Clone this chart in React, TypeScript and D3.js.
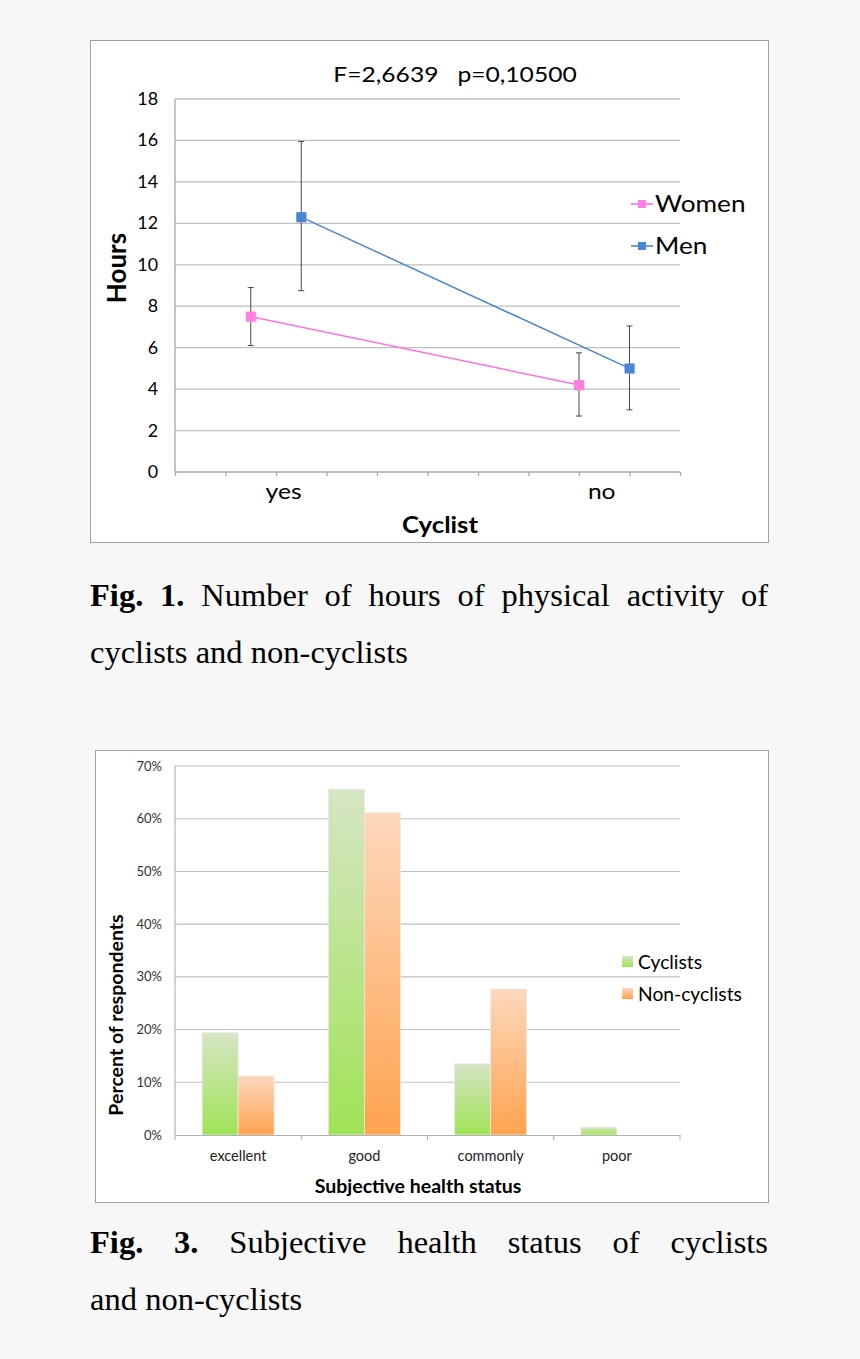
import React, { useEffect, useRef } from 'react';
import * as d3 from 'd3';

const W = 860;
const H = 1359;

// Fig. 1 - hours of physical activity
const cyclistGroups = ['yes', 'no'];
const groupX = [1.5, 8];
const groupLabelX = [2.15, 8.45];
const womenMean = [7.5, 4.2];
const womenLow = [6.1, 2.7];
const womenHigh = [8.9, 5.75];
const menMean = [12.3, 5.0];
const menLow = [8.75, 3.0];
const menHigh = [15.95, 7.05];
const hourTicks = [0, 2, 4, 6, 8, 10, 12, 14, 16, 18];
const fig1Title = 'F=2,6639   p=0,10500';

// Fig. 3 - subjective health status
const healthStatus = ['excellent', 'good', 'commonly', 'poor'];
const cyclistsPct = [19.4, 65.6, 13.5, 1.5];
const nonCyclistsPct = [11.2, 61.2, 27.7, 0];
const pctTicks = [0, 10, 20, 30, 40, 50, 60, 70];

const caption1 = [
  [{ t: 'Fig.', b: true }, { t: '1.', b: true }, { t: 'Number' }, { t: 'of' }, { t: 'hours' }, { t: 'of' }, { t: 'physical' }, { t: 'activity' }, { t: 'of' }],
  [{ t: 'cyclists' }, { t: 'and' }, { t: 'non-cyclists' }],
];
const caption3 = [
  [{ t: 'Fig.', b: true }, { t: '3.', b: true }, { t: 'Subjective' }, { t: 'health' }, { t: 'status' }, { t: 'of' }, { t: 'cyclists' }],
  [{ t: 'and' }, { t: 'non-cyclists' }],
];

const FONT = 'Lato, "Open Sans", sans-serif';

function txt(sel: any, x: number, y: number, s: string, o: any = {}) {
  const g = sel.append('g')
    .attr('transform', `translate(${x},${y}) rotate(${o.rotate || 0}) scale(${o.sx || 1},1)`);
  return g.append('text')
    .attr('font-family', o.family || FONT)
    .attr('font-size', o.size || 14)
    .attr('font-weight', o.weight || 'normal')
    .attr('text-anchor', o.anchor || 'start')
    .attr('fill', o.fill || '#000')
    .style('white-space', 'pre')
    .text(s);
}

export default function App() {
  const svgRef = useRef<SVGSVGElement>(null);

  useEffect(() => {
    document.body.style.margin = '0';
    document.body.style.background = '#f7f7f7';
    const svg = d3.select(svgRef.current);
    svg.selectAll('*').remove();

    const defs = svg.append('defs');
    const grad = (id: string, top: string, bottom: string) => {
      const lg = defs.append('linearGradient').attr('id', id)
        .attr('x1', 0).attr('y1', 0).attr('x2', 0).attr('y2', 1);
      lg.append('stop').attr('offset', '0%').attr('stop-color', top);
      lg.append('stop').attr('offset', '100%').attr('stop-color', bottom);
    };
    grad('gGreen', '#d6e5c4', '#a0e356');
    grad('gOrange', '#fdd8bd', '#ffa34e');

    // ---------------- Fig. 1 ----------------
    const f1 = svg.append('g');
    f1.append('rect').attr('x', 90.5).attr('y', 40.5).attr('width', 678).attr('height', 502)
      .attr('fill', '#fff').attr('stroke', '#a0a0a0');

    const x = d3.scaleLinear().domain([0, 10]).range([175, 680]);
    const y = d3.scaleLinear().domain([0, 18]).range([472, 99]);

    f1.selectAll('.grid').data(hourTicks.slice(1)).enter().append('line')
      .attr('x1', x(0)).attr('x2', x(10))
      .attr('y1', (d) => y(d)).attr('y2', (d) => y(d))
      .attr('stroke', '#c0c0c0').attr('stroke-width', 1.3);

    const xAxis = d3.axisBottom(x).ticks(10).tickSize(4).tickFormat(() => '');
    const xa = f1.append('g').attr('transform', `translate(0,${y(0)})`).call(xAxis);
    xa.selectAll('path,line').attr('stroke', '#a8a8a8').attr('stroke-width', 1.3);
    xa.select('.domain').attr('d', `M${x(0)},0H${x(10)}`);

    f1.append('line').attr('x1', x(0)).attr('x2', x(0)).attr('y1', y(18)).attr('y2', y(0))
      .attr('stroke', '#a8a8a8').attr('stroke-width', 1.3);

    hourTicks.forEach((t) => {
      txt(f1, 158, y(t) + 6, String(t), { size: 17, anchor: 'end', sx: 1.05 });
    });

    txt(f1, 455, 82, fig1Title, { size: 22, anchor: 'middle', sx: 1.12 });
    txt(f1, 126, 268, 'Hours', { size: 26, weight: 'bold', anchor: 'middle', rotate: -90 });
    txt(f1, 440, 533, 'Cyclist', { size: 23, weight: 'bold', anchor: 'middle', sx: 1.12 });

    cyclistGroups.forEach((c, i) => {
      txt(f1, x(groupLabelX[i]), 499, c, { size: 22, anchor: 'middle', sx: 1.12 });
    });

    const series = [
      { name: 'Women', mean: womenMean, low: womenLow, high: womenHigh, off: 0, line: '#ff6fdc', mark: '#ff80e2' },
      { name: 'Men', mean: menMean, low: menLow, high: menHigh, off: 1, line: '#4d86d2', mark: '#4a86d6' },
    ];

    series.forEach((s) => {
      const pts = s.mean.map((m, i) => [x(groupX[i] + s.off), y(m)] as [number, number]);
      f1.append('path').attr('d', d3.line()(pts)).attr('fill', 'none')
        .attr('stroke', s.line).attr('stroke-width', 1.5);
    });

    series.forEach((s) => {
      s.mean.forEach((m, i) => {
        const cx = x(groupX[i] + s.off);
        f1.append('line').attr('x1', cx).attr('x2', cx).attr('y1', y(s.low[i])).attr('y2', y(s.high[i]))
          .attr('stroke', '#333').attr('stroke-width', 0.9);
        [s.low[i], s.high[i]].forEach((v) => {
          f1.append('line').attr('x1', cx - 3).attr('x2', cx + 3).attr('y1', y(v)).attr('y2', y(v))
            .attr('stroke', '#333').attr('stroke-width', 0.9);
        });
      });
    });

    series.forEach((s) => {
      s.mean.forEach((m, i) => {
        const cx = x(groupX[i] + s.off);
        f1.append('rect').attr('x', cx - 4).attr('y', y(m) - 4).attr('width', 10).attr('height', 10)
          .attr('fill', '#bbb').attr('opacity', 0.5);
        f1.append('rect').attr('x', cx - 5).attr('y', y(m) - 5).attr('width', 10).attr('height', 10)
          .attr('fill', s.mark);
      });
    });

    series.forEach((s, k) => {
      const ly = 204 + k * 42;
      f1.append('line').attr('x1', 631).attr('x2', 653).attr('y1', ly).attr('y2', ly)
        .attr('stroke', s.line).attr('stroke-width', 1.6);
      f1.append('rect').attr('x', 638).attr('y', ly - 4).attr('width', 8).attr('height', 8).attr('fill', s.mark);
      txt(f1, 655, ly + 8, s.name, { size: 23, sx: 1.14 });
    });

    // ---------------- Fig. 3 ----------------
    const f3 = svg.append('g');
    f3.append('rect').attr('x', 95.5).attr('y', 750.5).attr('width', 673).attr('height', 452)
      .attr('fill', '#fff').attr('stroke', '#a0a0a0');

    const xb = d3.scaleBand().domain(healthStatus).range([175, 680]);
    const xs = d3.scaleBand().domain(['c', 'n']).range([0, xb.bandwidth()]).paddingOuter(0.753);
    const yb = d3.scaleLinear().domain([0, 70]).range([1135, 766]);

    f3.selectAll('.grid').data(pctTicks.slice(1)).enter().append('line')
      .attr('x1', 175).attr('x2', 680)
      .attr('y1', (d) => yb(d)).attr('y2', (d) => yb(d))
      .attr('stroke', '#c0c0c0').attr('stroke-width', 1.1);

    pctTicks.forEach((t) => {
      txt(f3, 162, yb(t) + 4.5, `${t}%`, { size: 13, anchor: 'end', fill: '#333' });
    });

    const bars = [
      { key: 'c', name: 'Cyclists', vals: cyclistsPct, fill: 'url(#gGreen)' },
      { key: 'n', name: 'Non-cyclists', vals: nonCyclistsPct, fill: 'url(#gOrange)' },
    ];
    bars.forEach((b) => {
      f3.selectAll(`.bar-${b.key}`).data(healthStatus.filter((_, i) => b.vals[i] > 0)).enter()
        .append('rect')
        .attr('x', (d) => xb(d)! + xs(b.key)!)
        .attr('y', (d) => yb(b.vals[healthStatus.indexOf(d)]))
        .attr('width', xs.bandwidth())
        .attr('height', (d) => yb(0) - yb(b.vals[healthStatus.indexOf(d)]))
        .attr('fill', b.fill)
        .attr('stroke', '#eaeaea').attr('stroke-width', 0.8);
    });

    const xa3 = f3.append('g').attr('transform', `translate(0,${yb(0)})`)
      .call(d3.axisBottom(xb).tickSize(0).tickFormat(() => ''));
    xa3.select('.domain').attr('stroke', '#b0b0b0').attr('stroke-width', 1.1);
    xb.domain().concat(['end']).forEach((d, i) => {
      const px = 175 + i * xb.step();
      f3.append('line').attr('x1', px).attr('x2', px).attr('y1', yb(0)).attr('y2', yb(0) + 5)
        .attr('stroke', '#b0b0b0').attr('stroke-width', 1.1);
    });
    f3.append('line').attr('x1', 175).attr('x2', 175).attr('y1', yb(70)).attr('y2', yb(0))
      .attr('stroke', '#b0b0b0').attr('stroke-width', 1.1);

    healthStatus.forEach((c) => {
      txt(f3, xb(c)! + xb.bandwidth() / 2, 1161, c, { size: 14.5, anchor: 'middle', fill: '#222' });
    });

    txt(f3, 418, 1193, 'Subjective health status', { size: 19.5, weight: 'bold', anchor: 'middle' });
    txt(f3, 123, 1015, 'Percent of respondents', { size: 19.5, weight: 'bold', anchor: 'middle', rotate: -90 });

    bars.forEach((b, k) => {
      const ly = 962 + k * 32;
      f3.append('rect').attr('x', 622).attr('y', ly - 6).attr('width', 11).attr('height', 11).attr('fill', b.fill);
      txt(f3, 638, ly + 6.5, b.name, { size: 18.5, sx: 1.04 });
    });

    // ---------------- captions ----------------
    const drawCaption = (lines: any[], baselines: number[]) => {
      lines.forEach((words: any[], li: number) => {
        const g = svg.append('g').attr('transform', `translate(90,${baselines[li]})`);
        const nodes = words.map((w) => g.append('text')
          .attr('font-family', '"Liberation Serif", "Times New Roman", serif')
          .attr('font-size', 32.5)
          .attr('font-weight', w.b ? 'bold' : 'normal')
          .text(w.t));
        const widths = nodes.map((n) => (n.node() as SVGTextElement).getComputedTextLength());
        const total = 768 - 90;
        const justify = li < lines.length - 1;
        const gap = justify ? (total - d3.sum(widths)) / (words.length - 1) : 8.2;
        let cx = 0;
        nodes.forEach((n, i) => {
          n.attr('x', cx);
          cx += widths[i] + gap;
        });
      });
    };
    drawCaption(caption1, [606, 663]);
    drawCaption(caption3, [1253, 1310]);
  }, []);

  return <svg ref={svgRef} width={W} height={H} style={{ display: 'block', background: '#f7f7f7' }} />;
}
